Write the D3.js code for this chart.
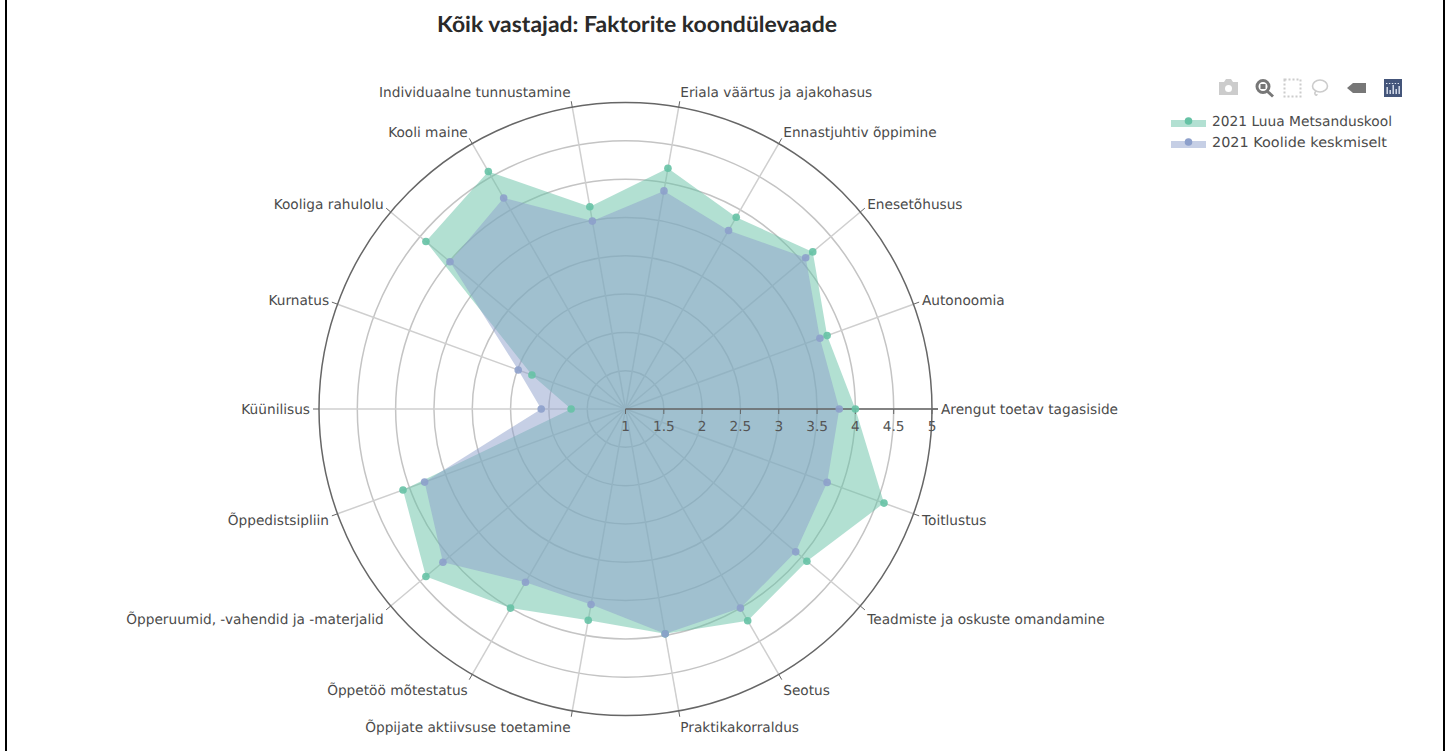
<!DOCTYPE html>
<html><head><meta charset="utf-8">
<script src="https://cdn.jsdelivr.net/npm/d3@7"></script>
<style>html,body{margin:0;padding:0;background:#fff}svg{display:block}text{font-family:"DejaVu Sans",sans-serif;text-rendering:geometricPrecision}</style>
</head><body><svg id="c" width="1451" height="751"></svg>
<script>
const titleText = "Kõik vastajad: Faktorite koondülevaade";
const categories = ["Arengut toetav tagasiside","Autonoomia","Enesetõhusus","Ennastjuhtiv õppimine","Eriala väärtus ja ajakohasus","Individuaalne tunnustamine","Kooli maine","Kooliga rahulolu","Kurnatus","Küünilisus","Õppedistsipliin","Õpperuumid, -vahendid ja -materjalid","Õppetöö mõtestatus","Õppijate aktiivsuse toetamine","Praktikakorraldus","Seotus","Teadmiste ja oskuste omandamine","Toitlustus"];
const luua = [4.0,3.8,4.19,3.89,4.19,3.68,4.58,4.40,2.30,1.71,4.09,4.40,4.0,3.8,3.98,4.19,4.09,4.59];
const keskmine = [3.79,3.70,4.07,3.69,3.89,3.49,4.18,3.99,2.49,2.10,3.79,4.11,3.61,3.59,3.98,4.0,3.9,3.8];
const seriesNames = ["2021 Luua Metsanduskool","2021 Koolide keskmiselt"];
const seriesColors = ["#66c2a5","#8da0cb"];
const rTicks = [1,1.5,2,2.5,3,3.5,4,4.5,5];
const rTickLabels = ["1","1.5","2","2.5","3","3.5","4","4.5","5"];

const cx=625.5, cy=409, R=306.5;
const svg=d3.select("#c");
const r=d3.scaleLinear().domain([1,5]).range([0,R]);
const ang=d3.scaleLinear().domain([0,categories.length]).range([0,2*Math.PI]);
const px=(i,v)=>cx+r(v)*Math.cos(ang(i));
const py=(i,v)=>cy-r(v)*Math.sin(ang(i));
const labelFont='13.7px "DejaVu Sans"';

// page border
svg.append("rect").attr("x",5).attr("y",0).attr("width",2).attr("height",751).attr("fill","#000");
svg.append("rect").attr("x",1443).attr("y",0).attr("width",2).attr("height",751).attr("fill","#000");

svg.append("text").attr("x",637).attr("y",32).attr("text-anchor","middle")
 .style("font-family",'Lato').style("font-size","22px").style("font-weight",700)
 .attr("textLength",400).attr("lengthAdjust","spacingAndGlyphs").attr("fill","#2a2a2a").text(titleText);

const g=svg.append("g");
// grid
g.selectAll("circle.grid").data(rTicks.slice(1,-1)).join("circle").attr("cx",cx).attr("cy",cy).attr("r",d=>r(d)).attr("fill","none").attr("stroke","#c4c4c4").attr("stroke-width",1.5);
g.selectAll("line.spoke").data(categories).join("line").attr("x1",cx).attr("y1",cy).attr("x2",(d,i)=>px(i,5)).attr("y2",(d,i)=>py(i,5)).attr("stroke","#cfcfcf").attr("stroke-width",1.5);
// outer
g.append("circle").attr("cx",cx).attr("cy",cy).attr("r",R).attr("fill","none").attr("stroke","#666").attr("stroke-width",1.5);
// angular ticks
g.selectAll("line.tick").data(categories).join("line").attr("x1",(d,i)=>px(i,5)).attr("y1",(d,i)=>py(i,5))
 .attr("x2",(d,i)=>cx+(R+6)*Math.cos(ang(i))).attr("y2",(d,i)=>cy-(R+6)*Math.sin(ang(i))).attr("stroke","#666").attr("stroke-width",1);

// series fills
const poly=vals=>d3.line().x((v,i)=>px(i,v)).y((v,i)=>py(i,v)).curve(d3.curveLinearClosed)(vals);
[luua,keskmine].forEach((vals,k)=>{
 g.append("path").attr("d",poly(vals)).attr("fill",seriesColors[k]).attr("fill-opacity",0.5);
});
// radial axis
g.append("line").attr("x1",cx).attr("y1",cy).attr("x2",cx+R+6).attr("y2",cy).attr("stroke","#666").attr("stroke-width",1.5);
g.selectAll("line.rt").data(rTicks).join("line").attr("x1",d=>cx+r(d)).attr("x2",d=>cx+r(d)).attr("y1",cy).attr("y2",cy+5).attr("stroke","#666").attr("stroke-width",1);
g.selectAll("text.rl").data(rTickLabels).join("text").attr("x",(d,i)=>cx+r(rTicks[i])).attr("y",cy+22).attr("text-anchor","middle").attr("fill","#555").style("font",labelFont).text(d=>d);
// markers
[luua,keskmine].forEach((vals,k)=>{
 g.selectAll(null).data(vals).join("circle").attr("cx",(v,i)=>px(i,v)).attr("cy",(v,i)=>py(i,v)).attr("r",3.8).attr("fill",seriesColors[k]).attr("fill-opacity",0.9);
});
// labels
const labelShift=s=>{
 if(s<=-0.5) return 7.5;
 if(s<0) return -s*9;
 if(s>0.9) return -6.5;
 if(s>0.8) return -4;
 return -s*3.5;
};
g.selectAll("text.cat").data(categories).join("text")
 .attr("x",(d,i)=>cx+(R+9)*Math.cos(ang(i))).attr("y",(d,i)=>cy-(R+9)*Math.sin(ang(i))+5+labelShift(Math.sin(ang(i))))
 .attr("text-anchor",(d,i)=>{const c=Math.cos(ang(i));return c>0.01?"start":c<-0.01?"end":"middle";})
 .attr("fill","#4a4a4a").style("font",labelFont).text(d=>d);

// legend
const lg=svg.append("g");
seriesNames.forEach((n,k)=>{
 const y=121+21*k;
 lg.append("rect").attr("x",1171).attr("y",y-1).attr("width",35).attr("height",7).attr("fill",seriesColors[k]).attr("fill-opacity",0.5);
 lg.append("circle").attr("cx",1188.5).attr("cy",y).attr("r",3.8).attr("fill",seriesColors[k]);
 lg.append("text").attr("x",1212).attr("y",y+5).attr("fill","#4a4a4a").style("font",labelFont).attr("textLength",k?175:180).attr("lengthAdjust","spacingAndGlyphs").text(n);
});

// modebar
const mb=svg.append("g");
const gc="#ccc", dc="#777";
mb.append("path").attr("d","M1219,82h5l2,-3h5l2,3h5v13h-19z").attr("fill",gc);
mb.append("circle").attr("cx",1228.5).attr("cy",88.5).attr("r",3.5).attr("fill","#fff");
mb.append("circle").attr("cx",1263).attr("cy",86.5).attr("r",6).attr("fill","none").attr("stroke",dc).attr("stroke-width",3);
mb.append("rect").attr("x",1260.5).attr("y",84).attr("width",5).attr("height",5).attr("fill",dc);
mb.append("line").attr("x1",1267).attr("y1",91).attr("x2",1273).attr("y2",96.5).attr("stroke",dc).attr("stroke-width",3);
mb.append("rect").attr("x",1284.5).attr("y",79.5).attr("width",16).attr("height",17).attr("fill","none").attr("stroke",gc).attr("stroke-width",2).attr("stroke-dasharray","2,2");
mb.append("ellipse").attr("cx",1320).attr("cy",86).attr("rx",7.5).attr("ry",6).attr("fill","none").attr("stroke",gc).attr("stroke-width",1.6);
mb.append("path").attr("d","M1316,91c-3,3 1,6 1,3").attr("fill","none").attr("stroke",gc).attr("stroke-width",1.5);
mb.append("path").attr("d","M1347,88l6,-5h13v10h-13z").attr("fill",dc);
mb.append("rect").attr("x",1384).attr("y",79).attr("width",18).attr("height",18).attr("fill","#44557a");
[[1387,7],[1390,4],[1393,9],[1396,5],[1399,8]].forEach(a=>{
 mb.append("rect").attr("x",a[0]-.5).attr("y",94-a[1]).attr("width",1.4).attr("height",a[1]).attr("fill","#dfe6f2");
});
mb.append("line").attr("x1",1386).attr("x2",1400).attr("y1",83.5).attr("y2",83.5).attr("stroke","#dfe6f2").attr("stroke-dasharray","1.4,1.5");
</script></body></html>
